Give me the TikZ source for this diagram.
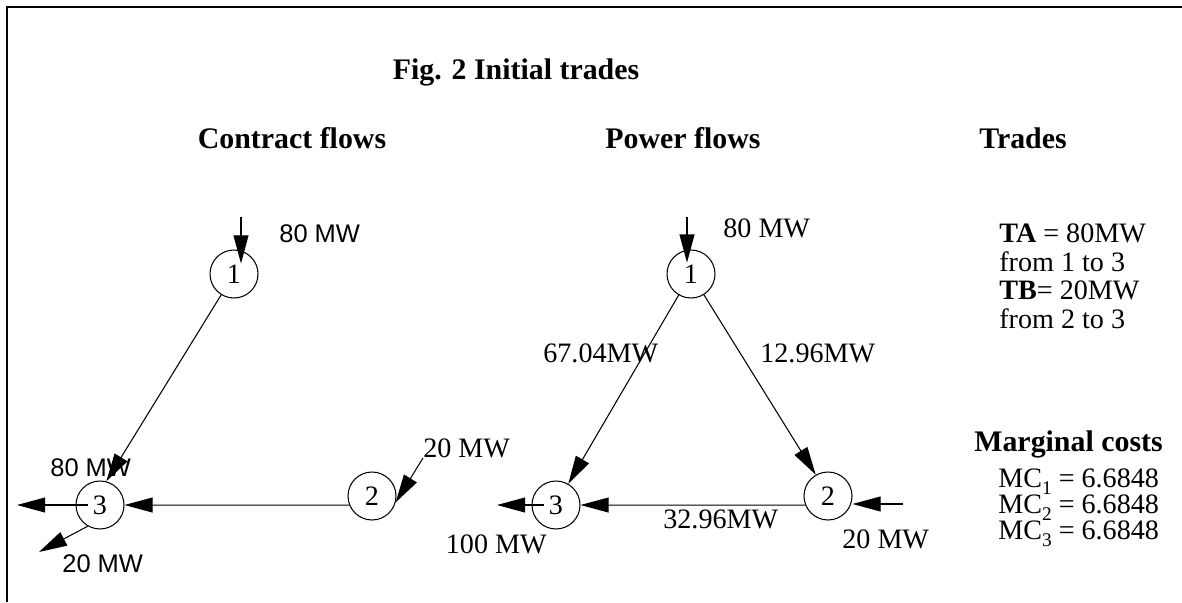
\documentclass[tikz,border=0pt]{standalone}
\usepackage{fontspec}
\setmainfont{Liberation Serif}
\newfontfamily\arialfont{Liberation Sans}
\usetikzlibrary{arrows.meta}
\newcommand{\lowsub}[1]{\raisebox{-4pt}{\fontsize{11}{11}\selectfont #1}}

\begin{document}
\begin{tikzpicture}[x=0.02cm,y=-0.02cm,
  bus/.style={draw,circle,line width=0.6pt,minimum size=0.96cm,inner sep=0pt,font=\fontsize{16}{16}\selectfont},
  flow/.style={line width=0.6pt,-{Triangle[length=16pt,width=8.5pt]}},
  lbl/.style={font=\fontsize{16}{16}\selectfont,inner sep=0pt},
  slbl/.style={font=\arialfont\fontsize{14.5}{14.5}\selectfont,inner sep=0pt},
  head/.style={font=\fontsize{17}{17}\selectfont\bfseries,inner sep=0pt}]
\useasboundingbox (0,0) rectangle (1182,602);
\draw[line width=1.1pt] (7,602) -- (7,7) -- (1182,7);
% titles
\node[head,anchor=base] (title) at (516,79) {Fig. 2 Initial trades};
\node[head,anchor=base] (hcontract) at (292,148) {Contract flows};
\node[head,anchor=base] (hpower) at (683,148) {Power flows};
\node[head,anchor=base] (htrades) at (1023,148) {Trades};
% contract flows
\node[bus] (c1) at (234,274) {1};
\node[bus] (c2) at (372,496) {2};
\node[bus] (c3) at (100,505) {3};
\coordinate (c1in) at (241,217);
\coordinate (c2in) at (423,458);
\coordinate (c3outa) at (17,505);
\coordinate (c3outb) at (39,552);
\draw[flow] (c1in) -- ([yshift=6pt]c1in |- c1.center);
\draw[flow] (c1) -- (c3.75);
\draw[flow] (c2.202) -- (c3.east);
\draw[flow] (c2in) -- (c2.-15);
\draw[flow] ([xshift=-7pt]c3.center) -- (c3outa);
\draw[flow] (c3.240) -- (c3outb);
\node[slbl,anchor=base west] (c1lbl) at (279,242) {80 MW};
\node[slbl,anchor=base west] (c3lbla) at (50,476) {80 MW};
\node[slbl,anchor=base west] (c3lblb) at (62,572) {20 MW};
\node[lbl,anchor=base west] (c2lbl) at (423,457) {20 MW};
% power flows
\node[bus] (p1) at (691,274) {1};
\node[bus] (p2) at (828,496) {2};
\node[bus] (p3) at (556,505) {3};
\coordinate (p1in) at (687,217);
\coordinate (p2in) at (903,504);
\coordinate (p3out) at (497,505);
\draw[flow] (p1in) -- ([yshift=6.5pt]p1in |- p1.center);
\draw[flow] (p1) -- (p3.60);
\draw[flow] (p1) -- (p2.120);
\draw[flow] (p2.202) -- (p3.east);
\draw[flow] (p2in) -- (p2in -| p2.east);
\draw[flow] ([xshift=-7pt]p3.center) -- (p3out);
\node[lbl,anchor=base west] (p1lbl) at (723,237) {80 MW};
\node[lbl,anchor=base west] (f13) at (543,362) {67.04MW};
\node[lbl,anchor=base west] (f12) at (760,362) {12.96MW};
\node[lbl,anchor=base west] (f23) at (663,528) {32.96MW};
\node[lbl,anchor=base west] (p2lbl) at (842,548) {20 MW};
\node[lbl,anchor=base east] (p3lbl) at (547,553) {100 MW};
% trades and marginal costs
\node[lbl,anchor=base west] (ta) at (999,242) {\textbf{TA} = 80MW};
\node[lbl,anchor=base west] (tafrom) at (999,271) {from 1 to 3};
\node[lbl,anchor=base west] (tb) at (999,299) {\textbf{TB}= 20MW};
\node[lbl,anchor=base west] (tbfrom) at (999,328) {from 2 to 3};
\node[head,anchor=base west] (hmc) at (974,451) {Marginal costs};
\node[lbl,anchor=base west] (mc1) at (998,487) {MC\lowsub{1} = 6.6848};
\node[lbl,anchor=base west] (mc2) at (998,513) {MC\lowsub{2} = 6.6848};
\node[lbl,anchor=base west] (mc3) at (998,539) {MC\lowsub{3} = 6.6848};
\end{tikzpicture}
\end{document}
